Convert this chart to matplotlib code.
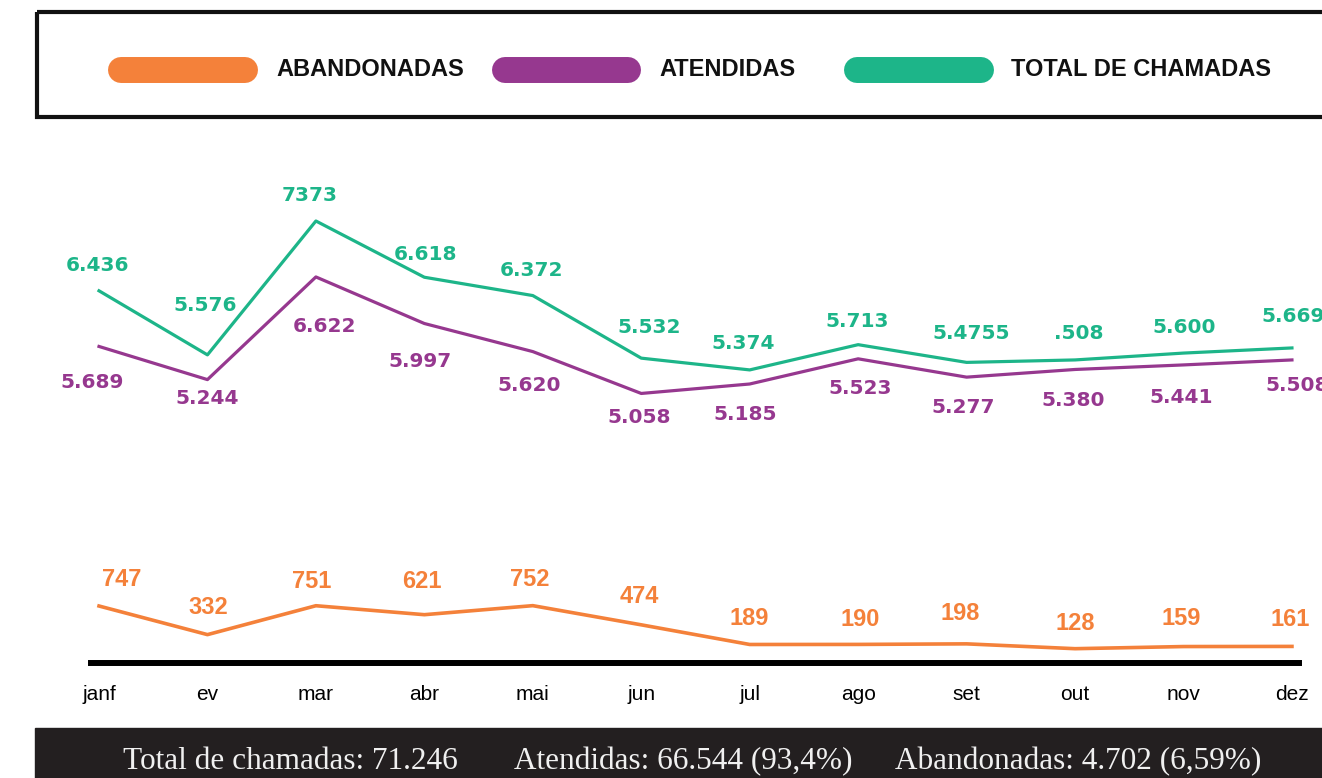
import matplotlib
matplotlib.use('Agg')
import matplotlib.pyplot as plt  # Plot stuff
from matplotlib.patches import Rectangle
from matplotlib.lines import Line2D

# month labels as they show on the chart
months = ['janf', 'ev', 'mar', 'abr', 'mai', 'jun', 'jul', 'ago', 'set', 'out', 'nov', 'dez']

# values per month
total = [6436, 5576, 7373, 6618, 6372, 5532, 5374, 5713, 5475, 5508, 5600, 5669]
atendidas = [5689, 5244, 6622, 5997, 5620, 5058, 5185, 5523, 5277, 5380, 5441, 5508]
abandonadas = [747, 332, 751, 621, 752, 474, 189, 190, 198, 128, 159, 161]

# labels as printed (some have typos in the original)
total_text = ['6.436', '5.576', '7373', '6.618', '6.372', '5.532', '5.374', '5.713', '5.4755', '.508', '5.600', '5.669']
atend_text = ['5.689', '5.244', '6.622', '5.997', '5.620', '5.058', '5.185', '5.523', '5.277', '5.380', '5.441', '5.508']
aband_text = ['747', '332', '751', '621', '752', '474', '189', '190', '198', '128', '159', '161']

footer = ['Total de chamadas: 71.246', 'Atendidas: 66.544 (93,4%)', 'Abandonadas: 4.702 (6,59%)']

ORANGE = '#f4813a'
PURPLE = '#96388f'
GREEN = '#1db589'

# label offsets in pixels, image direction (down = positive)
total_off = [(-2, -25), (-2, -49), (-6, -25), (1, -23), (-1, -25), (8, -31),
             (-7, -26), (-1, -23), (5, -29), (4, -26), (1, -26), (1, -31)]
atend_off = [(-7, 36), (0, 19), (9, 50), (-4, 38), (-4, 34), (-2, 24),
             (-5, 31), (2, 30), (-3, 30), (-2, 31), (-2, 33), (5, 26)]
aband_off = [(23, -27), (1, -27), (-4, -24), (-2, -33), (-3, -26), (-2, -28),
             (-1, -26), (2, -25), (-6, -30), (0, -25), (-2, -28), (-2, -27)]

W, H = 1322, 778
fig = plt.figure(figsize=(W / 100, H / 100), dpi=100)

x = list(range(len(months)))
xlo, xhi = -0.0738, 11.065
left = 91 / W
width = (1299 - 91) / W


def put_labels(axis, vals, texts, offs, col, size, fam):
    # matplotlib offsets go up, so flip the y
    for i in range(len(vals)):
        dx, dy = offs[i]
        axis.annotate(texts[i], (i, vals[i]), xytext=(dx, -dy), textcoords='offset pixels',
                      ha='center', va='center', color=col, fontsize=size, fontweight='bold',
                      family=fam, annotation_clip=False)


# top part: total and atendidas
ax = fig.add_axes([left, 1 - 450 / H, width, 300 / H])
ax.plot(x, total, color=GREEN, lw=2.3)
ax.plot(x, atendidas, color=PURPLE, lw=2.3)
ax.set_xlim(xlo, xhi)
ax.set_ylim(4299, 8326)
ax.axis('off')
put_labels(ax, total, total_text, total_off, GREEN, 14.5, 'DejaVu Sans')
put_labels(ax, atendidas, atend_text, atend_off, PURPLE, 14.5, 'DejaVu Sans')

# bottom part: abandonadas (broken axis)
ax2 = fig.add_axes([left, 1 - 663 / H, width, 123 / H])
ax2.plot(x, abandonadas, color=ORANGE, lw=2.6)
ax2.set_xlim(xlo, xhi)
ax2.set_ylim(-79.5, 1704)
for s in ['top', 'right', 'left']:
    ax2.spines[s].set_visible(False)
ax2.spines['bottom'].set_linewidth(4.3)
ax2.spines['bottom'].set_color('black')
ax2.set_yticks([])
ax2.set_xticks(x)
ax2.set_xticklabels(months, fontsize=15, family='Liberation Sans')
ax2.tick_params(axis='x', length=0, pad=15.5)
put_labels(ax2, abandonadas, aband_text, aband_off, ORANGE, 17, 'Liberation Sans')

# overlay in pixel coords for legend box and footer
ov = fig.add_axes([0, 0, 1, 1], zorder=-1)
ov.set_xlim(0, W)
ov.set_ylim(H, 0)
ov.axis('off')

ov.add_patch(Rectangle((37, 12), 1310, 105, fill=False, edgecolor='#111111', lw=3))
legend_items = [(ORANGE, 121, 245, 276, 'ABANDONADAS'),
                (PURPLE, 505, 628, 659, 'ATENDIDAS'),
                (GREEN, 857, 981, 1011, 'TOTAL DE CHAMADAS')]
for col, x0, x1, tx, name in legend_items:
    ov.add_line(Line2D([x0, x1], [70, 70], color=col, lw=18.7, solid_capstyle='round'))
    ov.text(tx, 69, name, ha='left', va='center', fontsize=17, fontweight='bold',
            family='Liberation Sans', color='#111111')

# dark footer with totals
ov.add_patch(Rectangle((35, 728), 1300, 60, color='#231f20'))
for tx, txt in zip([123, 514, 895], footer):
    ov.text(tx, 769, txt, ha='left', va='baseline', fontsize=22.5, family='Liberation Serif',
            color='#f0f0f0')

fig.savefig('out.png', dpi=100)
